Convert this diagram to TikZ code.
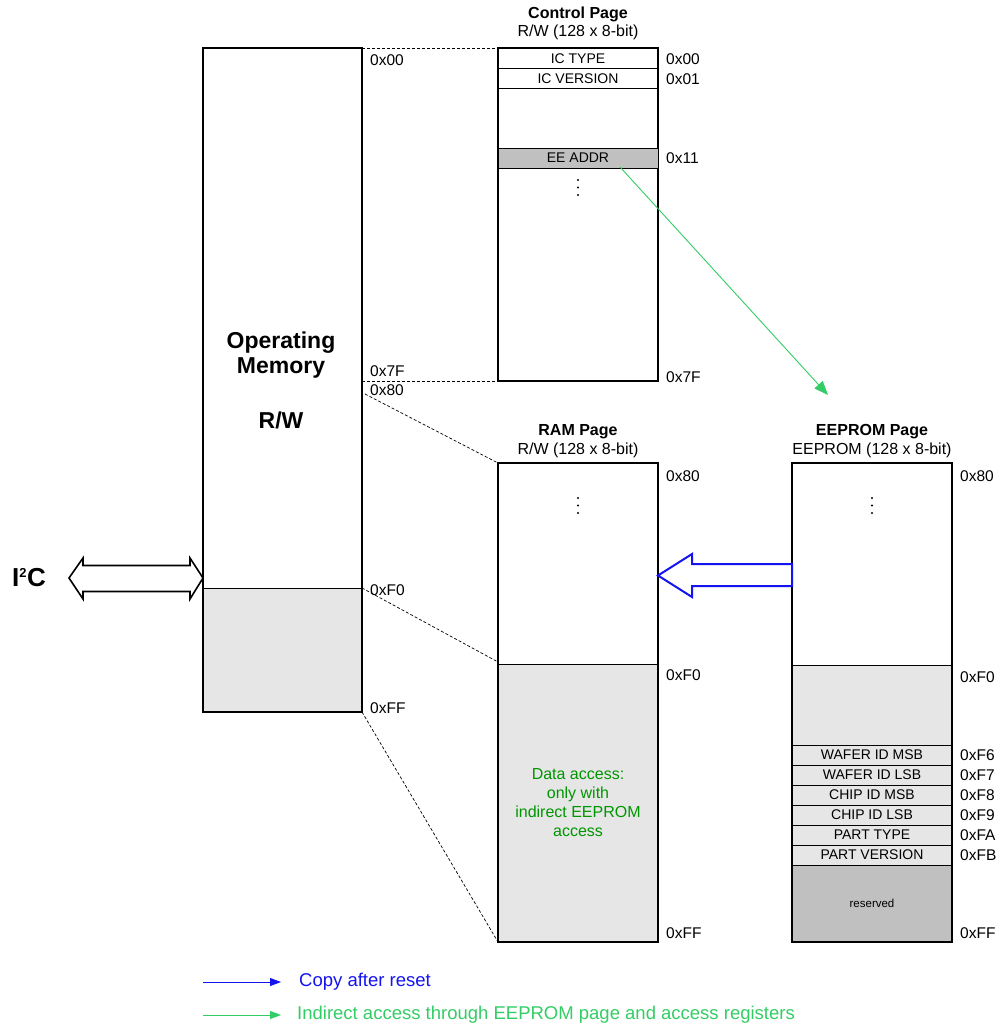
\documentclass[tikz,border=0pt]{standalone}
\usepackage{fontspec}
\setmainfont{Liberation Sans}
\usetikzlibrary{arrows.meta}
\definecolor{lgray}{RGB}{230,230,230}
\definecolor{dgray}{RGB}{192,192,192}
\definecolor{legblue}{RGB}{20,20,240}
\definecolor{leggreen}{RGB}{50,205,100}
\definecolor{txtgreen}{RGB}{0,150,0}
\tikzset{
  lbl/.style={anchor=west, inner sep=0pt, font=\fontsize{15.5}{17}\selectfont},
  rowbox/.style={draw, line width=1pt, minimum width=160pt, minimum height=20pt, inner sep=0pt, font=\fontsize{14}{15}\selectfont},
  page/.style={draw, line width=1.1pt},
  ttl/.style={inner sep=0pt, font=\bfseries\fontsize{16}{18}\selectfont},
  subttl/.style={inner sep=0pt, font=\fontsize{16}{18}\selectfont},
  dashline/.style={dashed, dash pattern=on 3pt off 2pt, line width=0.7pt},
  vdot/.style={fill, circle, inner sep=0pt, minimum size=2.2pt},
}
\begin{document}
\begin{tikzpicture}[x=1pt,y=-1pt]
\useasboundingbox (0,0) rectangle (1001,1030);

% ---------- Operating memory ----------
\fill[lgray] (203,588) rectangle (362,712);
\draw[line width=1pt] (203,588) -- (362,588);
\draw[line width=2.5pt] (203,48) rectangle (362,712);
\coordinate (om00) at (362,48);
\coordinate (om7f) at (362,381);
\coordinate (om80) at (365,394);
\coordinate (omf0) at (362,588);
\coordinate (omff) at (362,712);
\coordinate (omleft) at (203,578);
\node[font=\bfseries\fontsize{23}{25}\selectfont, align=center] (omtext) at (281,355) {Operating\\Memory};
\node[font=\bfseries\fontsize{23}{25}\selectfont] (omrw) at (281,420) {R/W};
\node[lbl] (l00) at (370,60) {0x00};
\node[lbl] (l7f) at (370,371) {0x7F};
\node[lbl] (l80) at (370,390) {0x80};
\node[lbl] (lf0) at (370,590) {0xF0};
\node[lbl] (lff) at (370,708) {0xFF};

% ---------- Control page ----------
\node[ttl] (cpt) at (578,14) {Control Page};
\node[subttl] (cps) at (578,32) {R/W (128 x 8-bit)};
\draw[page] (498,48) rectangle (658,381);
\coordinate (cptop) at (498,48);
\coordinate (cpbot) at (498,381);
\node[rowbox] (ictype) at (578,58.5) {IC TYPE};
\node[rowbox] (icver) at (578,78.5) {IC VERSION};
\node[rowbox, fill=dgray] (eeaddr) at (578,158) {EE ADDR};
\node[vdot] (cd1) at (578,180) {};
\node[vdot] (cd2) at (578,187.5) {};
\node[vdot] (cd3) at (578,195) {};
\node[lbl] (c00) at (666,59) {0x00};
\node[lbl] (c01) at (666,79) {0x01};
\node[lbl] (c11) at (666,158) {0x11};
\node[lbl] (c7f) at (666,377) {0x7F};
\coordinate (eestart) at (620,167);

% ---------- RAM page ----------
\node[ttl] (rpt) at (578,432) {RAM Page};
\node[subttl] (rps) at (578,450) {R/W (128 x 8-bit)};
\fill[lgray] (498,664) rectangle (658,942);
\draw[line width=1pt] (498,664) -- (658,664);
\draw[page] (498,463) rectangle (658,942);
\coordinate (rptop) at (498,463);
\coordinate (rpf0) at (498,662);
\coordinate (rpbot) at (498,942);
\coordinate (rpright) at (658,575.5);
\node[vdot] (rd1) at (578,498) {};
\node[vdot] (rd2) at (578,505.5) {};
\node[vdot] (rd3) at (578,513) {};
\node[lbl] (r80) at (666,476) {0x80};
\node[lbl] (rf0) at (666,675) {0xF0};
\node[lbl] (rff) at (666,933) {0xFF};
\node[align=center, text=txtgreen, font=\fontsize{16}{19}\selectfont] (dacc) at (578,803) {Data access:\\only with\\indirect EEPROM\\access};

% ---------- EEPROM page ----------
\node[ttl] (ept) at (872,432) {EEPROM Page};
\node[subttl] (eps) at (872,450) {EEPROM (128 x 8-bit)};
\fill[lgray] (792,665) rectangle (952,745);
\draw[page] (792,463) rectangle (952,942);
\draw[line width=1pt] (792,665) -- (952,665);
\coordinate (eptarget) at (828,395);
\coordinate (epleft) at (792,575.5);
\node[rowbox, fill=lgray] (wmsb) at (872,755) {WAFER ID MSB};
\node[rowbox, fill=lgray] (wlsb) at (872,775) {WAFER ID LSB};
\node[rowbox, fill=lgray] (cmsb) at (872,795) {CHIP ID MSB};
\node[rowbox, fill=lgray] (clsb) at (872,815) {CHIP ID LSB};
\node[rowbox, fill=lgray] (ptype) at (872,835) {PART TYPE};
\node[rowbox, fill=lgray] (pver) at (872,855) {PART VERSION};
\node[rowbox, fill=dgray, minimum height=77pt, font=\fontsize{11.5}{13}\selectfont] (resv) at (872,903.5) {reserved};
\draw[page] (792,463) rectangle (952,942);
\node[vdot] (ed1) at (872,498) {};
\node[vdot] (ed2) at (872,505.5) {};
\node[vdot] (ed3) at (872,513) {};
\node[lbl] (e80) at (960,476) {0x80};
\node[lbl] (ef0) at (960,677) {0xF0};
\node[lbl] (ef6) at (960,755) {0xF6};
\node[lbl] (ef7) at (960,775) {0xF7};
\node[lbl] (ef8) at (960,795) {0xF8};
\node[lbl] (ef9) at (960,815) {0xF9};
\node[lbl] (efa) at (960,835) {0xFA};
\node[lbl] (efb) at (960,855) {0xFB};
\node[lbl] (eff) at (960,933) {0xFF};

% ---------- dashed mapping lines ----------
\draw[dashline] (om00) -- (cptop);
\draw[dashline] (om7f) -- (cpbot);
\draw[dashline] (om80) -- (rptop);
\draw[dashline] (omf0) -- (rpf0);
\draw[dashline] (omff) -- (rpbot);

% ---------- green indirect arrow ----------
\draw[leggreen, line width=0.9pt, -{Triangle[length=14pt, width=11pt]}] (eestart) -- (eptarget);

% ---------- blue block arrow ----------
\draw[legblue, line width=2pt, fill=white, line join=miter]
  (epleft |- 0,564) -- (692,564) -- (692,554) -- (rpright) -- (692,597) -- (692,586) -- (epleft |- 0,586) -- cycle;

% ---------- I2C double arrow ----------
\coordinate (i2ctip) at (69,578);
\draw[line width=1.6pt, fill=white, line join=miter]
  (i2ctip) -- (83,558) -- (83,565.5) -- (190,565.5) -- (190,558) -- (omleft)
  -- (190,599) -- (190,591.5) -- (83,591.5) -- (83,599) -- cycle;
\node[font=\bfseries\fontsize{26}{28}\selectfont] (i2c) at (29,578) {I\textsuperscript{\fontsize{13}{13}\selectfont 2}C};

% ---------- legend ----------
\coordinate (lb1) at (203,982);
\coordinate (lb2) at (281,982);
\coordinate (lg1) at (203,1015);
\coordinate (lg2) at (281,1015);
\draw[legblue, line width=1pt, -{Triangle[length=11pt, width=8pt]}] (lb1) -- (lb2);
\draw[leggreen, line width=1pt, -{Triangle[length=11pt, width=8pt]}] (lg1) -- (lg2);
\node[anchor=west, inner sep=0pt, text=legblue, font=\fontsize{18.5}{20}\selectfont] (legb) at (299,982) {Copy after reset};
\node[anchor=west, inner sep=0pt, text=leggreen, font=\fontsize{18.5}{20}\selectfont] (legg) at (297,1015) {Indirect access through EEPROM page and access registers};
\end{tikzpicture}
\end{document}
